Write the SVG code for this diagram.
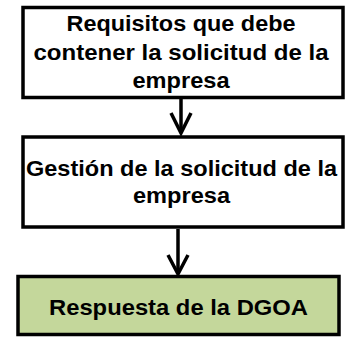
<svg xmlns="http://www.w3.org/2000/svg" width="347" height="337" viewBox="0 0 347 337">
<style>
.box{fill:#ffffff;stroke:#000000;stroke-width:3.5}
.green{fill:#c4d79b}
.t{font-family:"Liberation Sans",Arial,sans-serif;font-weight:bold;font-size:21.5px;fill:#000000;text-anchor:middle}
.c{fill:none;stroke:#000000;stroke-width:3.5}
</style>
<rect width="347" height="337" fill="#ffffff"/>
<g id="connectors">
<line class="c" x1="181" y1="99" x2="181" y2="133"/>
<polyline class="c" points="171,113 181,133 191,113"/>
<line class="c" x1="178" y1="229" x2="178" y2="274"/>
<polyline class="c" points="168,255 178,274 188,255"/>
</g>
<g id="node1">
<rect class="box" x="23" y="7.5" width="320" height="90"/>
<text class="t" x="181" y="31" textLength="229" lengthAdjust="spacingAndGlyphs">Requisitos que debe</text>
<text class="t" x="181" y="60" textLength="295" lengthAdjust="spacingAndGlyphs">contener la solicitud de la</text>
<text class="t" x="181" y="88" textLength="97" lengthAdjust="spacingAndGlyphs">empresa</text>
</g>
<g id="node2">
<rect class="box" x="23" y="137" width="320" height="90"/>
<text class="t" x="181.5" y="176" textLength="311" lengthAdjust="spacingAndGlyphs">Gestión de la solicitud de la</text>
<text class="t" x="181.5" y="203" textLength="97" lengthAdjust="spacingAndGlyphs">empresa</text>
</g>
<g id="node3">
<rect class="box green" x="18" y="276.5" width="321" height="58"/>
<text class="t" x="178.5" y="315" textLength="259" lengthAdjust="spacingAndGlyphs">Respuesta de la DGOA</text>
</g>
</svg>
